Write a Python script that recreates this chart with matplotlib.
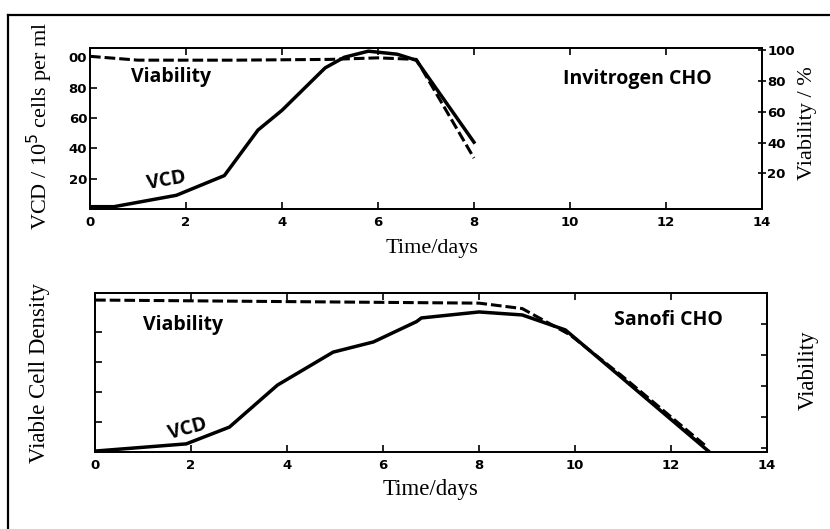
import numpy as np
import matplotlib
matplotlib.use("Agg")
import matplotlib.pyplot as plt
from matplotlib.lines import Line2D

# --- data ---
# top panel: Invitrogen CHO
inv_t_vcd = [0, 0.5, 1.8, 2.8, 3.5, 4.0, 4.9, 5.3, 5.8, 6.4, 6.8, 8.0]
inv_vcd = [1.5, 1.5, 9, 22, 52, 65, 93, 100, 104, 102, 98, 44]
inv_t_via = [0, 1, 3, 5, 6, 6.8, 8.0]
inv_via = [96, 93.5, 93.5, 94, 95, 94, 30]

# bottom panel: Sanofi CHO (arbitrary units, no tick labels on the y axes)
san_t_vcd = [0, 1.9, 2.8, 3.8, 4.96, 5.8, 6.7, 6.8, 8.0, 8.9, 9.8, 12.8]
san_vcd = [0.03, 0.27, 0.83, 2.23, 3.33, 3.67, 4.35, 4.47, 4.67, 4.57, 4.07, 0]
san_t_via = [0, 2, 4, 6, 8, 8.9, 9.9, 11, 12.7]
san_via = [95.5, 95, 94.5, 94, 93.5, 90, 73, 46, 2]

x_ticks = [0, 2, 4, 6, 8, 10, 12, 14]
inv_left_ticks = [20, 40, 60, 80, 100]
inv_left_labels = ['20', '40', '60', '80', '00']
inv_right_ticks = [20, 40, 60, 80, 100]

tick_font = dict(family='DejaVu Sans', weight='bold', size=9.5)
note_font = dict(family='Open Sans', weight='bold', size=14)
lab_top = dict(family='Liberation Serif', size=16)
lab_bot = dict(family='Liberation Serif', size=16.5)

fig = plt.figure(figsize=(8.3, 5.29), dpi=100)

# scanned page frame (only the top and left edges show)
fig.add_artist(Line2D([0.0096, 0.0096], [0, 0.9716], color='black', lw=1.6, transform=fig.transFigure))
fig.add_artist(Line2D([0.0096, 1.0], [0.9716, 0.9716], color='black', lw=1.6, transform=fig.transFigure))


def style_axes(ax):
    for s in ax.spines.values():
        s.set_linewidth(1.3)
    ax.set_xlim(0, 14)
    ax.set_xticks(x_ticks)
    ax.set_xticklabels([str(v) for v in x_ticks], **tick_font)
    ax.tick_params(axis='x', direction='in', top=True, length=5, width=1.2, pad=5)
    ax.tick_params(axis='y', direction='in', length=5, width=1.2, pad=2)


# ---------- top panel ----------
ax1 = fig.add_axes([0.1084, 0.605, 0.8096, 0.304])
style_axes(ax1)
ax1.plot(inv_t_vcd, inv_vcd, color='black', lw=2.5, solid_joinstyle='round')
ax1.set_ylim(0, 106)
ax1.set_yticks(inv_left_ticks)
ax1.set_yticklabels(inv_left_labels, **tick_font)

ax1r = ax1.twinx()
ax1r.plot(inv_t_via, inv_via, color='black', lw=2.2, ls=(0, (3.5, 1.3)))
ax1r.set_ylim(-3, 101.3)
ax1r.set_yticks(inv_right_ticks)
ax1r.set_yticklabels([str(v) for v in inv_right_ticks], **tick_font)
ax1r.tick_params(axis='y', direction='inout', length=6, width=1.2, pad=1)
for s in ax1r.spines.values():
    s.set_linewidth(1.3)

ax1.text(1.69, 87, 'Viability', ha='center', va='center', **note_font)
ax1.text(1.6, 18.5, 'VCD', ha='center', va='center', rotation=10, **note_font)
ax1.text(11.4, 85.5, 'Invitrogen CHO', ha='center', va='center', **note_font)

fig.text(40 / 830, 1 - 126 / 529, 'VCD / 10$^5$ cells per ml', rotation=90,
         ha='center', va='center', **lab_top)
fig.text(807 / 830, 1 - 123 / 529, 'Viability / %', rotation=90,
         ha='center', va='center', **lab_top)
fig.text(432 / 830, 1 - 249 / 529, 'Time/days', ha='center', va='center', **lab_top)

# ---------- bottom panel ----------
ax2 = fig.add_axes([0.1145, 0.1456, 0.8096, 0.3004])
style_axes(ax2)
ax2.plot(san_t_vcd, san_vcd, color='black', lw=2.5, solid_joinstyle='round')
ax2.set_ylim(0, 5.3)
ax2.set_yticks([1, 2, 3, 4])
ax2.set_yticklabels([])

ax2r = ax2.twinx()
ax2r.plot(san_t_via, san_via, color='black', lw=2.2, ls=(0, (3.5, 1.3)))
ax2r.set_ylim(-2.5, 100)
ax2r.set_yticks([0, 20, 40, 60, 80, 100])
ax2r.set_yticklabels([])
ax2r.tick_params(axis='y', direction='in', length=4, width=1.2)
for s in ax2r.spines.values():
    s.set_linewidth(1.3)

ax2.text(1.83, 4.23, 'Viability', ha='center', va='center', **note_font)
ax2.text(1.94, 0.75, 'VCD', ha='center', va='center', rotation=15, **note_font)
ax2.text(11.94, 4.4, 'Sanofi CHO', ha='center', va='center', **note_font)

fig.text(40 / 830, 1 - 373 / 529, 'Viable Cell Density', rotation=90,
         ha='center', va='center', **lab_bot)
fig.text(808 / 830, 1 - 370 / 529, 'Viability', rotation=90,
         ha='center', va='center', **lab_bot)
fig.text(431 / 830, 1 - 490 / 529, 'Time/days', ha='center', va='center', **lab_bot)

fig.savefig('out.png', dpi=100)
